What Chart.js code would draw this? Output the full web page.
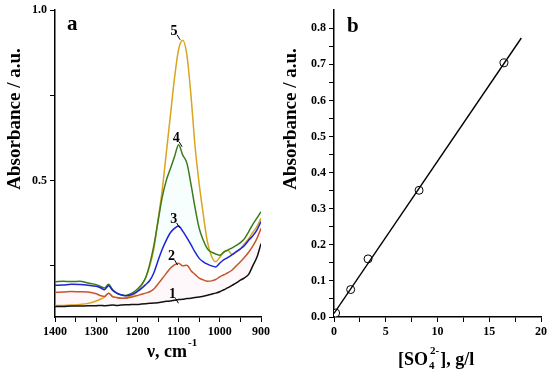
<!DOCTYPE html>
<html>
<head>
<meta charset="utf-8">
<script src="https://cdn.jsdelivr.net/npm/chart.js@4.4.1/dist/chart.umd.min.js"></script>
<style>
  html, body { margin: 0; padding: 0; background: #fff; }
  #wrap { position: relative; width: 550px; height: 372px; }
  canvas { position: absolute; top: 0; }
  #spectraChart { left: 0; }
  #calibChart { left: 275px; }
</style>
</head>
<body>
<div id="wrap">
  <canvas id="spectraChart" width="275" height="372"></canvas>
  <canvas id="calibChart" width="275" height="372"></canvas>
</div>
<script>
// --------------------------------------------------------------------
// Data (panel a: IR spectra, panel b: calibration)
// --------------------------------------------------------------------
const wavenumbers = [1400, 1380, 1360, 1340, 1320, 1300, 1290, 1280, 1270, 1260, 1250, 1240, 1230, 1220, 1210, 1200,
    1190, 1180, 1170, 1160, 1150, 1140, 1130, 1120, 1110, 1100, 1090, 1080, 1070, 1060, 1050, 1040, 1030, 1020, 1010,
    1000, 990, 980, 970, 960, 950, 940, 930, 920, 910, 900];

const spectrum1 = [0.131, 0.131, 0.132, 0.132, 0.133, 0.133, 0.134, 0.133, 0.134, 0.135, 0.134, 0.135, 0.136, 0.136, 0.137, 0.137,
    0.138, 0.139, 0.140, 0.141, 0.142, 0.144, 0.146, 0.147, 0.149, 0.151, 0.152, 0.154, 0.155, 0.157, 0.159, 0.161, 0.164, 0.167, 0.170,
    0.174, 0.180, 0.186, 0.193, 0.200, 0.208, 0.215, 0.225, 0.250, 0.275, 0.315];

const spectrum2 = [0.172, 0.173, 0.175, 0.174, 0.173, 0.168, 0.163, 0.160, 0.170, 0.160, 0.157, 0.155, 0.155, 0.157, 0.160, 0.163,
    0.167, 0.170, 0.174, 0.182, 0.197, 0.212, 0.228, 0.243, 0.253, 0.258, 0.250, 0.252, 0.236, 0.225, 0.214, 0.209, 0.205, 0.206, 0.210,
    0.218, 0.224, 0.230, 0.238, 0.250, 0.262, 0.275, 0.290, 0.308, 0.330, 0.360];

const spectrum3 = [0.193, 0.194, 0.196, 0.195, 0.193, 0.190, 0.186, 0.180, 0.192, 0.178, 0.170, 0.165, 0.162, 0.164, 0.168, 0.175,
    0.184, 0.195, 0.207, 0.230, 0.265, 0.298, 0.325, 0.347, 0.360, 0.367, 0.352, 0.333, 0.312, 0.290, 0.272, 0.262, 0.255, 0.250, 0.247,
    0.258, 0.268, 0.275, 0.283, 0.292, 0.300, 0.310, 0.325, 0.338, 0.355, 0.380];

const spectrum4 = [0.203, 0.205, 0.204, 0.205, 0.200, 0.195, 0.190, 0.185, 0.196, 0.180, 0.170, 0.165, 0.163, 0.166, 0.172, 0.182,
    0.195, 0.215, 0.255, 0.310, 0.380, 0.450, 0.500, 0.535, 0.570, 0.605, 0.575, 0.552, 0.490, 0.420, 0.360, 0.325, 0.300, 0.290, 0.285,
    0.281, 0.290, 0.297, 0.303, 0.310, 0.318, 0.330, 0.350, 0.372, 0.390, 0.409];

const spectrum5 = [0.134, 0.134, 0.135, 0.137, 0.140, 0.147, 0.152, 0.158, 0.170, 0.160, 0.157, 0.155, 0.155, 0.160, 0.165, 0.175,
    0.192, 0.215, 0.250, 0.300, 0.385, 0.470, 0.580, 0.690, 0.800, 0.885, 0.912, 0.870, 0.750, 0.600, 0.490, 0.400, 0.320, 0.278, 0.262,
    0.275, 0.292, 0.295, 0.283, 0.290, 0.300, 0.315, 0.330, 0.348, 0.365, 0.390];

const spectraXTicks = [1400, 1350, 1300, 1250, 1200, 1150, 1100, 1050, 1000, 950, 900];
const spectraYTicks = [0.25, 0.5, 0.75, 1.0];

// curve number labels [wavenumber, absorbance]
const curveLabels = ['1', '2', '3', '4', '5'];
const curveLabelPos = [[1115, 0.155], [1117, 0.267], [1112, 0.376], [1106, 0.614], [1111, 0.928]];

const sulfateConc = [0.16, 1.61, 3.29, 8.22, 16.42];
const sulfateAbs = [0.011, 0.076, 0.161, 0.351, 0.704];
const fitConc = [0, 18.1];
const fitAbs = [0.010, 0.773];

const calibXTicks = [0, 2.5, 5, 7.5, 10, 12.5, 15, 17.5, 20];
const calibYTicks = [0, 0.05, 0.1, 0.15, 0.2, 0.25, 0.3, 0.35, 0.4, 0.45, 0.5, 0.55, 0.6, 0.65, 0.7, 0.75, 0.8];

const colors = {
    c1: '#111111',
    c2: '#c4562b',
    c3: '#1f22d6',
    c4: '#3d7a1e',
    c5: '#d9a520'
};

const serif = '"Liberation Serif", "Times New Roman", serif';
const tickFont = { family: serif, size: 12, weight: 'bold' };

// --------------------------------------------------------------------
// Shared axis helpers
// --------------------------------------------------------------------
function axisBase(ticksArr, labelFn, fitFn) {
    return {
        type: 'linear',
        border: { display: true, color: '#000', width: 1.5 },
        grid: { display: true, drawOnChartArea: false, drawTicks: true, tickLength: 5, color: '#000', lineWidth: 1 },
        ticks: {
            color: '#000',
            font: tickFont,
            padding: 3,
            autoSkip: false,
            maxRotation: 0,
            callback: labelFn
        },
        afterBuildTicks: function (scale) {
            scale.ticks = ticksArr.map(v => ({ value: v }));
        },
        afterFit: fitFn
    };
}

function drawSupText(ctx, base, sup, x, y, size) {
    ctx.font = 'bold ' + size + 'px ' + serif;
    const w = ctx.measureText(base).width;
    ctx.fillText(base, x, y);
    ctx.font = 'bold ' + Math.round(size * 0.6) + 'px ' + serif;
    ctx.fillText(sup, x + w + 1, y - size * 0.62);
}

function drawVerticalTitle(ctx, text, x, y) {
    ctx.save();
    ctx.translate(x, y);
    ctx.rotate(-Math.PI / 2);
    ctx.font = 'bold 19px ' + serif;
    ctx.textAlign = 'center';
    ctx.textBaseline = 'alphabetic';
    ctx.fillText(text, 0, 0);
    ctx.restore();
}

// --------------------------------------------------------------------
// Panel a: spectra
// --------------------------------------------------------------------
const spectraSeries = [spectrum1, spectrum2, spectrum3, spectrum4, spectrum5];
const spectraColors = [colors.c1, colors.c2, colors.c3, colors.c4, colors.c5];
// very faint tints seen between some curves in the original scan
const spectraFills = [false, { target: 0, above: 'rgba(255,150,200,0.07)', below: 'rgba(255,150,200,0.07)' }, false,
    { target: 2, above: 'rgba(120,235,235,0.06)', below: 'rgba(120,235,235,0.06)' }, false];

const spectraPlugin = {
    id: 'spectraText',
    afterDraw(chart) {
        const ctx = chart.ctx;
        const xs = chart.scales.x, ys = chart.scales.y;
        ctx.save();
        ctx.fillStyle = '#000';
        ctx.textBaseline = 'alphabetic';

        drawVerticalTitle(ctx, 'Absorbance / a.u.', 20, 119);

        ctx.textAlign = 'left';
        drawSupText(ctx, 'ν, cm', '-1', 147, 357, 18);

        ctx.font = 'bold 21px ' + serif;
        ctx.fillText('a', 67, 30);

        ctx.font = 'bold 14px ' + serif;
        ctx.textAlign = 'center';
        curveLabels.forEach((lab, i) => {
            const px = xs.getPixelForValue(curveLabelPos[i][0]);
            const py = ys.getPixelForValue(curveLabelPos[i][1]);
            ctx.fillText(lab, px, py);
            ctx.strokeStyle = '#000';
            ctx.lineWidth = 1;
            ctx.beginPath();
            ctx.moveTo(px + 3, py);
            ctx.lineTo(px + 6, py + 5);
            ctx.stroke();
        });
        ctx.restore();
    }
};

new Chart(document.getElementById('spectraChart'), {
    type: 'line',
    data: {
        datasets: spectraSeries.map((s, i) => ({
            label: curveLabels[i],
            data: wavenumbers.map((v, j) => ({ x: v, y: s[j] })),
            borderColor: spectraColors[i],
            borderWidth: 1.5,
            pointRadius: 0,
            cubicInterpolationMode: 'monotone',
            fill: spectraFills[i]
        }))
    },
    options: {
        responsive: false,
        animation: false,
        layout: { padding: { left: 0, top: 10, right: 14, bottom: 0 } },
        plugins: { legend: { display: false }, tooltip: { enabled: false }, filler: { drawTime: 'beforeDatasetsDraw' } },
        scales: {
            x: {
                ...axisBase(spectraXTicks, v => (v % 100 === 0 ? String(v) : ''), s => { s.height = 55; }),
                min: 900,
                max: 1400,
                reverse: true
            },
            y: {
                ...axisBase(spectraYTicks, v => (v === 0.5 || v === 1 ? v.toFixed(1) : ''), s => { s.width = 55; }),
                min: 0.1,
                max: 1.0
            }
        }
    },
    plugins: [spectraPlugin]
});

// --------------------------------------------------------------------
// Panel b: calibration line
// --------------------------------------------------------------------
const calibPlugin = {
    id: 'calibText',
    afterDraw(chart) {
        const ctx = chart.ctx;
        ctx.save();
        ctx.fillStyle = '#000';
        ctx.textBaseline = 'alphabetic';

        drawVerticalTitle(ctx, 'Absorbance / a.u.', 21, 119);

        ctx.font = 'bold 21px ' + serif;
        ctx.textAlign = 'left';
        ctx.fillText('b', 72, 32);

        // [SO4 2-], g/l
        let x = 123, y = 365;
        ctx.font = 'bold 18px ' + serif;
        ctx.fillText('[SO', x, y);
        x += ctx.measureText('[SO').width;
        ctx.font = 'bold 11px ' + serif;
        ctx.fillText('4', x + 1, y + 4);
        ctx.fillText('2-', x + 2, y - 11);
        x += ctx.measureText('2-').width + 3;
        ctx.font = 'bold 18px ' + serif;
        ctx.fillText('], g/l', x, y);
        ctx.restore();
    }
};

new Chart(document.getElementById('calibChart'), {
    type: 'scatter',
    data: {
        datasets: [
            {
                label: 'fit',
                data: fitConc.map((c, i) => ({ x: c, y: fitAbs[i] })),
                showLine: true,
                borderColor: '#000',
                borderWidth: 1.4,
                pointRadius: 0
            },
            {
                label: 'data',
                data: sulfateConc.map((c, i) => ({ x: c, y: sulfateAbs[i] })),
                showLine: false,
                pointRadius: 4,
                pointBackgroundColor: '#fff',
                pointBorderColor: '#000',
                pointBorderWidth: 1
            }
        ]
    },
    options: {
        responsive: false,
        animation: false,
        layout: { padding: { left: 0, top: 9, right: 8, bottom: 0 } },
        plugins: { legend: { display: false }, tooltip: { enabled: false } },
        scales: {
            x: {
                ...axisBase(calibXTicks, v => (v % 5 === 0 ? String(v) : ''), s => { s.height = 55; }),
                min: 0,
                max: 20
            },
            y: {
                ...axisBase(calibYTicks, v => (Math.abs(v * 10 - Math.round(v * 10)) < 1e-6 ? v.toFixed(1) : ''), s => { s.width = 59; }),
                min: 0,
                max: 0.85
            }
        }
    },
    plugins: [calibPlugin]
});
</script>
</body>
</html>
